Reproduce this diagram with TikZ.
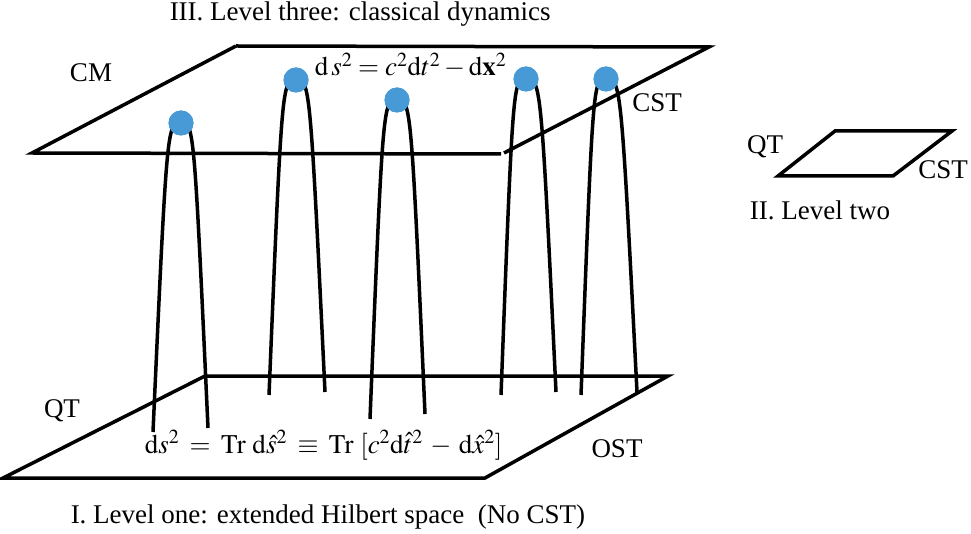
\documentclass[tikz,border=0pt]{standalone}
\usepackage{mathptmx}
\usepackage{fontspec}
\setmainfont{Liberation Serif}
\definecolor{ballblue}{RGB}{72,154,214}

\begin{document}
\begin{tikzpicture}[x=1pt,y=-1pt,line width=3.5pt,
  every node/.style={font=\fontsize{27}{32}\selectfont,inner sep=0pt},
  ball/.style={circle,fill=ballblue,minimum size=25pt,inner sep=0pt}]
\useasboundingbox (0,0) rectangle (971,534);

\draw (236,46) -- (709,47) -- (504,153);
\draw (501,154) -- (32,153) -- (236,46);
\draw (205,376) -- (668,376) -- (485,478) -- (3,478) -- cycle;
\draw (835,131) -- (952,131) -- (893,176) -- (778,176) -- cycle;

\coordinate (l1) at (153,432);
\coordinate (r1) at (208,428);
\coordinate (l2) at (269,395);
\coordinate (r2) at (325,392);
\coordinate (l3) at (370,419);
\coordinate (r3) at (425,414);
\coordinate (l4) at (501,395);
\coordinate (r4) at (556,392);
\coordinate (l5) at (581,395);
\coordinate (r5) at (637,392);

\node[ball] (b1) at (181,123) {};
\node[ball] (b2) at (296,80) {};
\node[ball] (b3) at (397,100) {};
\node[ball] (b4) at (526,79) {};
\node[ball] (b5) at (606,79) {};

\draw (l1) .. controls (167,123) .. (b1.center) .. controls (194,123) .. (r1);
\draw (l2) .. controls (282,80) .. (b2.center) .. controls (310,80) .. (r2);
\draw (l3) .. controls (383,100) .. (b3.center) .. controls (411,100) .. (r3);
\draw (l4) .. controls (513,79) .. (b4.center) .. controls (541,79) .. (r4);
\draw (l5) .. controls (593,79) .. (b5.center) .. controls (621,79) .. (r5);

\node[ball] at (b1) {};
\node[ball] at (b2) {};
\node[ball] at (b3) {};
\node[ball] at (b4) {};
\node[ball] at (b5) {};

\node[anchor=base west] (title3) at (168,21) {III. Level three: classical dynamics};
\node[anchor=base] (cm) at (91,82) {CM};
\node[anchor=base] (cst3) at (657,112) {CST};
\node[anchor=base west] (eq3) at (313,76) {$\mathrm{d}\,s^2 = c^2\mathrm{d}t^2 - \mathrm{d}\mathbf{x}^2$};

\node[anchor=base] (qt2) at (765,154) {QT};
\node[anchor=base] (cst2) at (943,179) {CST};
\node[anchor=base] (title2) at (820,220) {II. Level two};

\node[anchor=base] (qt1) at (62,417) {QT};
\node[anchor=base] (ost) at (617,457) {OST};
\node[anchor=base west] (eq1) at (143,453) {\thickmuskip=7mu\medmuskip=5mu$\mathrm{d}s^2 = \mathrm{Tr}\ \mathrm{d}\hat{s}^2 \equiv \mathrm{Tr}\ [c^2\mathrm{d}\hat{t}^2 - \mathrm{d}\hat{x}^2]$};
\node[anchor=base west] (title1) at (69,523) {I. Level one: extended Hilbert space\ \ (No CST)};
\end{tikzpicture}
\end{document}
